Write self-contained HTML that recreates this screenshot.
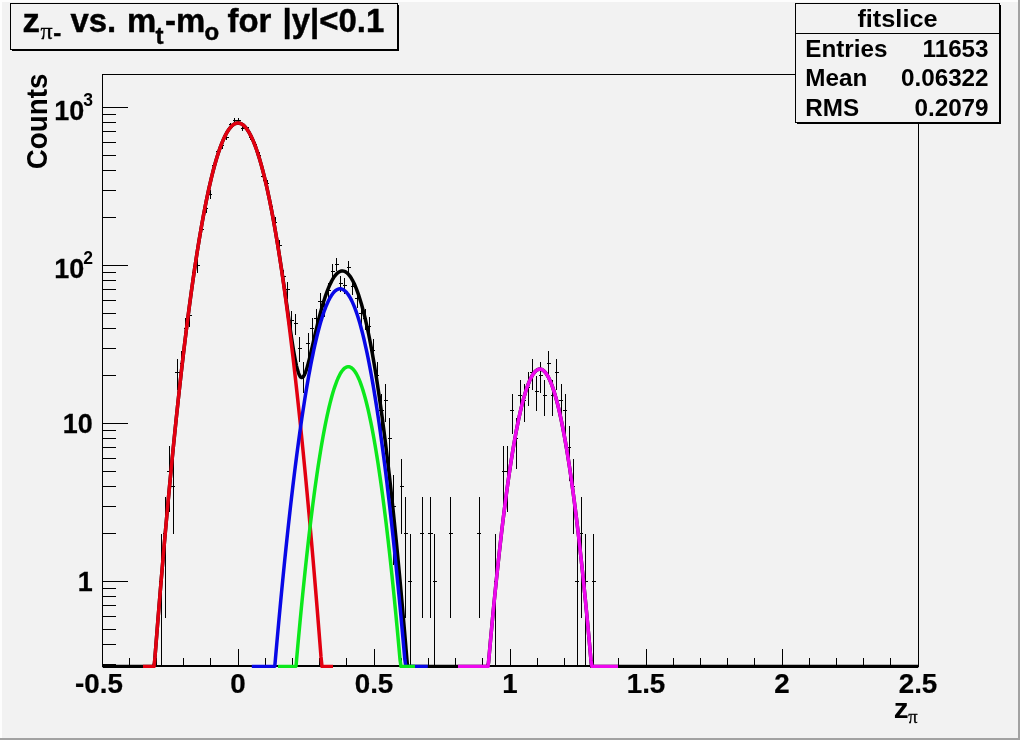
<!DOCTYPE html>
<html><head><meta charset="utf-8"><title>fitslice</title>
<style>html,body{margin:0;padding:0;background:#f2f2f2;}body{width:1020px;height:740px;overflow:hidden;position:relative;font-family:"Liberation Sans",sans-serif;}</style></head>
<body>
<svg width="1020" height="740" viewBox="0 0 1020 740" style="position:absolute;left:0;top:0;will-change:transform">
<rect x="0" y="0" width="1020" height="740" fill="#f2f2f2"/>
<rect x="0" y="0" width="1020" height="2" fill="#fdfdfd"/><rect x="0" y="0" width="2" height="740" fill="#fdfdfd"/>
<rect x="0" y="738" width="1020" height="2" fill="#a2a2a2"/><rect x="1018" y="0" width="2" height="740" fill="#a2a2a2"/>
<g shape-rendering="crispEdges" stroke="#000" stroke-width="1" fill="none">
<rect x="102.5" y="74.5" width="816.0" height="592.0"/>
<line x1="102.5" y1="666.5" x2="102.5" y2="649.0"/>
<line x1="129.5" y1="666.5" x2="129.5" y2="657.5"/>
<line x1="156.5" y1="666.5" x2="156.5" y2="657.5"/>
<line x1="183.5" y1="666.5" x2="183.5" y2="657.5"/>
<line x1="210.5" y1="666.5" x2="210.5" y2="657.5"/>
<line x1="238.5" y1="666.5" x2="238.5" y2="649.0"/>
<line x1="265.5" y1="666.5" x2="265.5" y2="657.5"/>
<line x1="292.5" y1="666.5" x2="292.5" y2="657.5"/>
<line x1="319.5" y1="666.5" x2="319.5" y2="657.5"/>
<line x1="346.5" y1="666.5" x2="346.5" y2="657.5"/>
<line x1="374.5" y1="666.5" x2="374.5" y2="649.0"/>
<line x1="401.5" y1="666.5" x2="401.5" y2="657.5"/>
<line x1="428.5" y1="666.5" x2="428.5" y2="657.5"/>
<line x1="455.5" y1="666.5" x2="455.5" y2="657.5"/>
<line x1="482.5" y1="666.5" x2="482.5" y2="657.5"/>
<line x1="510.5" y1="666.5" x2="510.5" y2="649.0"/>
<line x1="537.5" y1="666.5" x2="537.5" y2="657.5"/>
<line x1="564.5" y1="666.5" x2="564.5" y2="657.5"/>
<line x1="591.5" y1="666.5" x2="591.5" y2="657.5"/>
<line x1="618.5" y1="666.5" x2="618.5" y2="657.5"/>
<line x1="646.5" y1="666.5" x2="646.5" y2="649.0"/>
<line x1="673.5" y1="666.5" x2="673.5" y2="657.5"/>
<line x1="700.5" y1="666.5" x2="700.5" y2="657.5"/>
<line x1="727.5" y1="666.5" x2="727.5" y2="657.5"/>
<line x1="754.5" y1="666.5" x2="754.5" y2="657.5"/>
<line x1="782.5" y1="666.5" x2="782.5" y2="649.0"/>
<line x1="809.5" y1="666.5" x2="809.5" y2="657.5"/>
<line x1="836.5" y1="666.5" x2="836.5" y2="657.5"/>
<line x1="863.5" y1="666.5" x2="863.5" y2="657.5"/>
<line x1="890.5" y1="666.5" x2="890.5" y2="657.5"/>
<line x1="918.5" y1="666.5" x2="918.5" y2="649.0"/>
<line x1="102.5" y1="664.5" x2="115.5" y2="664.5"/>
<line x1="102.5" y1="644.5" x2="115.5" y2="644.5"/>
<line x1="102.5" y1="629.5" x2="115.5" y2="629.5"/>
<line x1="102.5" y1="616.5" x2="115.5" y2="616.5"/>
<line x1="102.5" y1="605.5" x2="115.5" y2="605.5"/>
<line x1="102.5" y1="596.5" x2="115.5" y2="596.5"/>
<line x1="102.5" y1="588.5" x2="115.5" y2="588.5"/>
<line x1="102.5" y1="581.5" x2="127.5" y2="581.5"/>
<line x1="102.5" y1="533.5" x2="115.5" y2="533.5"/>
<line x1="102.5" y1="506.5" x2="115.5" y2="506.5"/>
<line x1="102.5" y1="486.5" x2="115.5" y2="486.5"/>
<line x1="102.5" y1="471.5" x2="115.5" y2="471.5"/>
<line x1="102.5" y1="458.5" x2="115.5" y2="458.5"/>
<line x1="102.5" y1="447.5" x2="115.5" y2="447.5"/>
<line x1="102.5" y1="438.5" x2="115.5" y2="438.5"/>
<line x1="102.5" y1="430.5" x2="115.5" y2="430.5"/>
<line x1="102.5" y1="423.5" x2="127.5" y2="423.5"/>
<line x1="102.5" y1="375.5" x2="115.5" y2="375.5"/>
<line x1="102.5" y1="348.5" x2="115.5" y2="348.5"/>
<line x1="102.5" y1="328.5" x2="115.5" y2="328.5"/>
<line x1="102.5" y1="313.5" x2="115.5" y2="313.5"/>
<line x1="102.5" y1="300.5" x2="115.5" y2="300.5"/>
<line x1="102.5" y1="289.5" x2="115.5" y2="289.5"/>
<line x1="102.5" y1="280.5" x2="115.5" y2="280.5"/>
<line x1="102.5" y1="272.5" x2="115.5" y2="272.5"/>
<line x1="102.5" y1="265.5" x2="127.5" y2="265.5"/>
<line x1="102.5" y1="217.5" x2="115.5" y2="217.5"/>
<line x1="102.5" y1="190.5" x2="115.5" y2="190.5"/>
<line x1="102.5" y1="170.5" x2="115.5" y2="170.5"/>
<line x1="102.5" y1="155.5" x2="115.5" y2="155.5"/>
<line x1="102.5" y1="142.5" x2="115.5" y2="142.5"/>
<line x1="102.5" y1="131.5" x2="115.5" y2="131.5"/>
<line x1="102.5" y1="122.5" x2="115.5" y2="122.5"/>
<line x1="102.5" y1="114.5" x2="115.5" y2="114.5"/>
<line x1="102.5" y1="107.5" x2="127.5" y2="107.5"/>
<rect x="102.0" y="665" width="817.0" height="2" fill="#000" stroke="none"/>
</g>
<clipPath id="c"><rect x="102.5" y="74.5" width="816.0" height="593.5"/></clipPath>
<g clip-path="url(#c)">
<g stroke="#000" stroke-width="1" shape-rendering="crispEdges">
<line x1="161.5" y1="533.9" x2="161.5" y2="666.5"/>
<line x1="159.1" y1="581.5" x2="163.2" y2="581.5"/>
<line x1="165.5" y1="497.2" x2="165.5" y2="618.2"/>
<line x1="163.2" y1="533.5" x2="167.3" y2="533.5"/>
<line x1="169.5" y1="445.7" x2="169.5" y2="511.7"/>
<line x1="167.3" y1="471.5" x2="171.4" y2="471.5"/>
<line x1="173.5" y1="458.6" x2="173.5" y2="533.9"/>
<line x1="171.4" y1="486.5" x2="175.4" y2="486.5"/>
<line x1="177.5" y1="359.0" x2="177.5" y2="389.5"/>
<line x1="175.4" y1="372.5" x2="179.5" y2="372.5"/>
<line x1="181.5" y1="350.7" x2="181.5" y2="379.1"/>
<line x1="179.5" y1="363.5" x2="183.6" y2="363.5"/>
<line x1="185.5" y1="318.3" x2="185.5" y2="340.2"/>
<line x1="183.6" y1="328.5" x2="187.7" y2="328.5"/>
<line x1="189.5" y1="306.6" x2="189.5" y2="326.6"/>
<line x1="187.7" y1="315.5" x2="191.8" y2="315.5"/>
<line x1="193.5" y1="265.9" x2="193.5" y2="280.4"/>
<line x1="191.8" y1="272.5" x2="195.8" y2="272.5"/>
<line x1="197.5" y1="259.0" x2="197.5" y2="272.7"/>
<line x1="195.8" y1="265.5" x2="199.9" y2="265.5"/>
<line x1="201.5" y1="224.0" x2="201.5" y2="234.6"/>
<line x1="199.9" y1="229.5" x2="204.0" y2="229.5"/>
<line x1="206.5" y1="203.7" x2="206.5" y2="212.7"/>
<line x1="204.0" y1="208.5" x2="208.1" y2="208.5"/>
<line x1="210.5" y1="190.4" x2="210.5" y2="198.6"/>
<line x1="208.1" y1="194.5" x2="212.2" y2="194.5"/>
<line x1="214.5" y1="162.3" x2="214.5" y2="169.0"/>
<line x1="212.2" y1="165.5" x2="216.2" y2="165.5"/>
<line x1="218.5" y1="149.0" x2="218.5" y2="155.0"/>
<line x1="216.2" y1="151.5" x2="220.3" y2="151.5"/>
<line x1="222.5" y1="143.0" x2="222.5" y2="148.8"/>
<line x1="220.3" y1="145.5" x2="224.4" y2="145.5"/>
<line x1="226.5" y1="134.4" x2="226.5" y2="139.8"/>
<line x1="224.4" y1="137.5" x2="228.5" y2="137.5"/>
<line x1="230.5" y1="122.6" x2="230.5" y2="127.5"/>
<line x1="228.5" y1="124.5" x2="232.6" y2="124.5"/>
<line x1="234.5" y1="117.9" x2="234.5" y2="122.7"/>
<line x1="232.6" y1="120.5" x2="236.6" y2="120.5"/>
<line x1="238.5" y1="118.4" x2="238.5" y2="123.2"/>
<line x1="236.6" y1="120.5" x2="240.7" y2="120.5"/>
<line x1="242.5" y1="126.2" x2="242.5" y2="131.3"/>
<line x1="240.7" y1="128.5" x2="244.8" y2="128.5"/>
<line x1="246.5" y1="125.5" x2="246.5" y2="130.5"/>
<line x1="244.8" y1="127.5" x2="248.9" y2="127.5"/>
<line x1="250.5" y1="134.6" x2="250.5" y2="140.0"/>
<line x1="248.9" y1="137.5" x2="253.0" y2="137.5"/>
<line x1="255.5" y1="141.9" x2="255.5" y2="147.5"/>
<line x1="253.0" y1="144.5" x2="257.0" y2="144.5"/>
<line x1="259.5" y1="152.3" x2="259.5" y2="158.5"/>
<line x1="257.0" y1="155.5" x2="261.1" y2="155.5"/>
<line x1="263.5" y1="173.3" x2="263.5" y2="180.5"/>
<line x1="261.1" y1="176.5" x2="265.2" y2="176.5"/>
<line x1="267.5" y1="180.3" x2="267.5" y2="187.9"/>
<line x1="265.2" y1="183.5" x2="269.3" y2="183.5"/>
<line x1="271.5" y1="202.0" x2="271.5" y2="210.9"/>
<line x1="269.3" y1="206.5" x2="273.4" y2="206.5"/>
<line x1="275.5" y1="217.4" x2="275.5" y2="227.4"/>
<line x1="273.4" y1="222.5" x2="277.4" y2="222.5"/>
<line x1="279.5" y1="239.7" x2="279.5" y2="251.6"/>
<line x1="277.4" y1="245.5" x2="281.5" y2="245.5"/>
<line x1="283.5" y1="269.6" x2="283.5" y2="284.5"/>
<line x1="281.5" y1="276.5" x2="285.6" y2="276.5"/>
<line x1="287.5" y1="282.2" x2="287.5" y2="298.7"/>
<line x1="285.6" y1="289.5" x2="289.7" y2="289.5"/>
<line x1="291.5" y1="310.8" x2="291.5" y2="331.4"/>
<line x1="289.7" y1="320.5" x2="293.8" y2="320.5"/>
<line x1="295.5" y1="313.7" x2="295.5" y2="334.8"/>
<line x1="293.8" y1="323.5" x2="297.8" y2="323.5"/>
<line x1="299.5" y1="336.6" x2="299.5" y2="361.9"/>
<line x1="297.8" y1="348.5" x2="301.9" y2="348.5"/>
<line x1="303.5" y1="362.1" x2="303.5" y2="393.3"/>
<line x1="301.9" y1="375.5" x2="306.0" y2="375.5"/>
<line x1="308.5" y1="332.5" x2="308.5" y2="357.0"/>
<line x1="306.0" y1="343.5" x2="310.1" y2="343.5"/>
<line x1="312.5" y1="318.3" x2="312.5" y2="340.2"/>
<line x1="310.1" y1="328.5" x2="314.2" y2="328.5"/>
<line x1="316.5" y1="309.3" x2="316.5" y2="329.7"/>
<line x1="314.2" y1="318.5" x2="318.2" y2="318.5"/>
<line x1="320.5" y1="293.3" x2="320.5" y2="311.3"/>
<line x1="318.2" y1="301.5" x2="322.3" y2="301.5"/>
<line x1="324.5" y1="297.8" x2="324.5" y2="316.5"/>
<line x1="322.3" y1="306.5" x2="326.4" y2="306.5"/>
<line x1="328.5" y1="283.2" x2="328.5" y2="299.8"/>
<line x1="326.4" y1="290.5" x2="330.5" y2="290.5"/>
<line x1="332.5" y1="264.4" x2="332.5" y2="278.8"/>
<line x1="330.5" y1="271.5" x2="334.6" y2="271.5"/>
<line x1="336.5" y1="257.7" x2="336.5" y2="271.3"/>
<line x1="334.6" y1="264.5" x2="338.6" y2="264.5"/>
<line x1="340.5" y1="276.0" x2="340.5" y2="291.7"/>
<line x1="338.6" y1="283.5" x2="342.7" y2="283.5"/>
<line x1="344.5" y1="277.7" x2="344.5" y2="293.7"/>
<line x1="342.7" y1="285.5" x2="346.8" y2="285.5"/>
<line x1="348.5" y1="261.0" x2="348.5" y2="274.9"/>
<line x1="346.8" y1="267.5" x2="350.9" y2="267.5"/>
<line x1="352.5" y1="278.6" x2="352.5" y2="294.6"/>
<line x1="350.9" y1="286.5" x2="355.0" y2="286.5"/>
<line x1="357.5" y1="290.1" x2="357.5" y2="307.6"/>
<line x1="355.0" y1="298.5" x2="359.0" y2="298.5"/>
<line x1="361.5" y1="304.0" x2="361.5" y2="323.5"/>
<line x1="359.0" y1="313.5" x2="363.1" y2="313.5"/>
<line x1="365.5" y1="309.3" x2="365.5" y2="329.7"/>
<line x1="363.1" y1="318.5" x2="367.2" y2="318.5"/>
<line x1="369.5" y1="316.7" x2="369.5" y2="338.3"/>
<line x1="367.2" y1="326.5" x2="371.3" y2="326.5"/>
<line x1="373.5" y1="338.8" x2="373.5" y2="364.5"/>
<line x1="371.3" y1="350.5" x2="375.4" y2="350.5"/>
<line x1="377.5" y1="362.1" x2="377.5" y2="393.3"/>
<line x1="375.4" y1="375.5" x2="379.4" y2="375.5"/>
<line x1="381.5" y1="393.6" x2="381.5" y2="434.4"/>
<line x1="379.4" y1="410.5" x2="383.5" y2="410.5"/>
<line x1="385.5" y1="384.2" x2="385.5" y2="421.7"/>
<line x1="383.5" y1="400.5" x2="387.6" y2="400.5"/>
<line x1="389.5" y1="418.0" x2="389.5" y2="468.7"/>
<line x1="387.6" y1="438.5" x2="391.7" y2="438.5"/>
<line x1="393.5" y1="474.8" x2="393.5" y2="565.2"/>
<line x1="391.7" y1="506.5" x2="395.8" y2="506.5"/>
<line x1="401.5" y1="458.6" x2="401.5" y2="533.9"/>
<line x1="399.8" y1="486.5" x2="403.9" y2="486.5"/>
<line x1="405.5" y1="497.2" x2="405.5" y2="618.2"/>
<line x1="403.9" y1="533.5" x2="408.0" y2="533.5"/>
<line x1="410.5" y1="533.9" x2="410.5" y2="666.5"/>
<line x1="408.0" y1="581.5" x2="412.1" y2="581.5"/>
<line x1="422.5" y1="497.2" x2="422.5" y2="618.2"/>
<line x1="420.2" y1="533.5" x2="424.3" y2="533.5"/>
<line x1="430.5" y1="497.2" x2="430.5" y2="618.2"/>
<line x1="428.4" y1="533.5" x2="432.5" y2="533.5"/>
<line x1="434.5" y1="533.9" x2="434.5" y2="666.5"/>
<line x1="432.5" y1="581.5" x2="436.6" y2="581.5"/>
<line x1="450.5" y1="497.2" x2="450.5" y2="618.2"/>
<line x1="448.8" y1="533.5" x2="452.9" y2="533.5"/>
<line x1="479.5" y1="497.2" x2="479.5" y2="618.2"/>
<line x1="477.4" y1="533.5" x2="481.4" y2="533.5"/>
<line x1="495.5" y1="533.9" x2="495.5" y2="666.5"/>
<line x1="493.7" y1="581.5" x2="497.8" y2="581.5"/>
<line x1="503.5" y1="445.7" x2="503.5" y2="511.7"/>
<line x1="501.8" y1="471.5" x2="505.9" y2="471.5"/>
<line x1="507.5" y1="445.7" x2="507.5" y2="511.7"/>
<line x1="505.9" y1="471.5" x2="510.0" y2="471.5"/>
<line x1="512.5" y1="393.6" x2="512.5" y2="434.4"/>
<line x1="510.0" y1="410.5" x2="514.1" y2="410.5"/>
<line x1="516.5" y1="418.0" x2="516.5" y2="468.7"/>
<line x1="514.1" y1="438.5" x2="518.2" y2="438.5"/>
<line x1="520.5" y1="379.9" x2="520.5" y2="416.2"/>
<line x1="518.2" y1="395.5" x2="522.2" y2="395.5"/>
<line x1="524.5" y1="384.2" x2="524.5" y2="421.7"/>
<line x1="522.2" y1="400.5" x2="526.3" y2="400.5"/>
<line x1="528.5" y1="372.2" x2="528.5" y2="406.1"/>
<line x1="526.3" y1="387.5" x2="530.4" y2="387.5"/>
<line x1="532.5" y1="359.0" x2="532.5" y2="389.5"/>
<line x1="530.4" y1="372.5" x2="534.5" y2="372.5"/>
<line x1="536.5" y1="375.9" x2="536.5" y2="411.0"/>
<line x1="534.5" y1="391.5" x2="538.6" y2="391.5"/>
<line x1="540.5" y1="362.1" x2="540.5" y2="393.3"/>
<line x1="538.6" y1="375.5" x2="542.6" y2="375.5"/>
<line x1="544.5" y1="379.9" x2="544.5" y2="416.2"/>
<line x1="542.6" y1="395.5" x2="546.7" y2="395.5"/>
<line x1="548.5" y1="350.7" x2="548.5" y2="379.1"/>
<line x1="546.7" y1="363.5" x2="550.8" y2="363.5"/>
<line x1="552.5" y1="379.9" x2="552.5" y2="416.2"/>
<line x1="550.8" y1="395.5" x2="554.9" y2="395.5"/>
<line x1="556.5" y1="359.0" x2="556.5" y2="389.5"/>
<line x1="554.9" y1="372.5" x2="559.0" y2="372.5"/>
<line x1="561.5" y1="384.2" x2="561.5" y2="421.7"/>
<line x1="559.0" y1="400.5" x2="563.0" y2="400.5"/>
<line x1="565.5" y1="393.6" x2="565.5" y2="434.4"/>
<line x1="563.0" y1="410.5" x2="567.1" y2="410.5"/>
<line x1="569.5" y1="426.0" x2="569.5" y2="480.6"/>
<line x1="567.1" y1="447.5" x2="571.2" y2="447.5"/>
<line x1="573.5" y1="458.6" x2="573.5" y2="533.9"/>
<line x1="571.2" y1="486.5" x2="575.3" y2="486.5"/>
<line x1="577.5" y1="533.9" x2="577.5" y2="666.5"/>
<line x1="575.3" y1="581.5" x2="579.4" y2="581.5"/>
<line x1="581.5" y1="497.2" x2="581.5" y2="618.2"/>
<line x1="579.4" y1="533.5" x2="583.4" y2="533.5"/>
<line x1="585.5" y1="533.9" x2="585.5" y2="666.5"/>
<line x1="583.4" y1="581.5" x2="587.5" y2="581.5"/>
<line x1="593.5" y1="533.9" x2="593.5" y2="666.5"/>
<line x1="591.6" y1="581.5" x2="595.7" y2="581.5"/>
</g>
<polyline points="102.5,666.5 103.5,666.5 104.5,666.5 105.5,666.5 106.5,666.5 107.5,666.5 108.5,666.5 109.5,666.5 110.5,666.5 111.5,666.5 112.5,666.5 113.5,666.5 114.5,666.5 115.5,666.5 116.5,666.5 117.5,666.5 118.5,666.5 119.5,666.5 120.5,666.5 121.5,666.5 122.5,666.5 123.5,666.5 124.5,666.5 125.5,666.5 126.5,666.5 127.5,666.5 128.5,666.5 129.5,666.5 130.5,666.5 131.5,666.5 132.5,666.5 133.5,666.5 134.5,666.5 135.5,666.5 136.5,666.5 137.5,666.5 138.5,666.5 139.5,666.5 140.5,666.5 141.5,666.5 142.5,666.5 143.5,666.5 144.5,666.5 145.5,666.5 146.5,666.5 147.5,666.5 148.5,666.5 149.5,666.5 150.5,666.5 151.5,666.5 152.5,666.5 153.5,666.5 154.5,663.3 155.5,650.5 156.5,637.8 157.5,625.2 158.5,612.8 159.5,600.6 160.5,588.5 161.5,576.5 162.5,564.8 163.5,553.1 164.5,541.7 165.5,530.4 166.5,519.2 167.5,508.2 168.5,497.3 169.5,486.6 170.5,476.1 171.5,465.7 172.5,455.5 173.5,445.4 174.5,435.5 175.5,425.7 176.5,416.1 177.5,406.7 178.5,397.4 179.5,388.2 180.5,379.2 181.5,370.4 182.5,361.7 183.5,353.2 184.5,344.8 185.5,336.6 186.5,328.5 187.5,320.6 188.5,312.9 189.5,305.3 190.5,297.9 191.5,290.6 192.5,283.4 193.5,276.5 194.5,269.6 195.5,263.0 196.5,256.5 197.5,250.1 198.5,243.9 199.5,237.9 200.5,232.0 201.5,226.2 202.5,220.7 203.5,215.2 204.5,210.0 205.5,204.9 206.5,199.9 207.5,195.1 208.5,190.4 209.5,185.9 210.5,181.6 211.5,177.4 212.5,173.4 213.5,169.5 214.5,165.8 215.5,162.2 216.5,158.8 217.5,155.6 218.5,152.5 219.5,149.5 220.5,146.7 221.5,144.1 222.5,141.6 223.5,139.3 224.5,137.1 225.5,135.1 226.5,133.2 227.5,131.5 228.5,130.0 229.5,128.6 230.5,127.4 231.5,126.3 232.5,125.3 233.5,124.6 234.5,123.9 235.5,123.5 236.5,123.2 237.5,123.0 238.5,123.0 239.5,123.2 240.5,123.5 241.5,123.9 242.5,124.6 243.5,125.3 244.5,126.3 245.5,127.4 246.5,128.6 247.5,130.0 248.5,131.5 249.5,133.2 250.5,135.1 251.5,137.1 252.5,139.3 253.5,141.6 254.5,144.1 255.5,146.7 256.5,149.5 257.5,152.5 258.5,155.6 259.5,158.8 260.5,162.2 261.5,165.8 262.5,169.5 263.5,173.4 264.5,177.4 265.5,181.6 266.5,185.9 267.5,190.4 268.5,195.1 269.5,199.9 270.5,204.8 271.5,209.9 272.5,215.2 273.5,220.6 274.5,226.1 275.5,231.8 276.5,237.7 277.5,243.7 278.5,249.8 279.5,256.1 280.5,262.5 281.5,269.0 282.5,275.7 283.5,282.4 284.5,289.2 285.5,296.2 286.5,303.1 287.5,310.1 288.5,317.1 289.5,324.0 290.5,330.9 291.5,337.6 292.5,344.0 293.5,350.2 294.5,355.9 295.5,361.2 296.5,365.8 297.5,369.8 298.5,373.1 299.5,375.4 300.5,377.0 301.5,377.6 302.5,377.4 303.5,376.4 304.5,374.7 305.5,372.3 306.5,369.4 307.5,366.1 308.5,362.3 309.5,358.4 310.5,354.2 311.5,349.9 312.5,345.6 313.5,341.2 314.5,336.9 315.5,332.5 316.5,328.3 317.5,324.2 318.5,320.2 319.5,316.3 320.5,312.5 321.5,308.9 322.5,305.4 323.5,302.1 324.5,298.9 325.5,295.9 326.5,293.1 327.5,290.4 328.5,287.9 329.5,285.5 330.5,283.4 331.5,281.4 332.5,279.5 333.5,277.9 334.5,276.4 335.5,275.1 336.5,274.0 337.5,273.0 338.5,272.3 339.5,271.7 340.5,271.2 341.5,271.0 342.5,270.9 343.5,271.1 344.5,271.4 345.5,271.8 346.5,272.5 347.5,273.3 348.5,274.4 349.5,275.6 350.5,276.9 351.5,278.5 352.5,280.3 353.5,282.2 354.5,284.3 355.5,286.6 356.5,289.1 357.5,291.8 358.5,294.6 359.5,297.7 360.5,300.9 361.5,304.3 362.5,308.0 363.5,311.7 364.5,315.7 365.5,319.9 366.5,324.3 367.5,328.8 368.5,333.5 369.5,338.5 370.5,343.6 371.5,348.9 372.5,354.4 373.5,360.1 374.5,366.0 375.5,372.0 376.5,378.3 377.5,384.7 378.5,391.4 379.5,398.2 380.5,405.2 381.5,412.4 382.5,419.8 383.5,427.4 384.5,435.2 385.5,443.2 386.5,451.4 387.5,459.7 388.5,468.3 389.5,477.0 390.5,486.0 391.5,495.1 392.5,504.4 393.5,513.9 394.5,523.6 395.5,533.5 396.5,543.5 397.5,553.8 398.5,564.3 399.5,574.9 400.5,585.7 401.5,596.8 402.5,608.0 403.5,619.4 404.5,630.9 405.5,642.7 406.5,654.7 407.5,666.5 408.5,666.5 409.5,666.5 410.5,666.5 411.5,666.5 412.5,666.5 413.5,666.5 414.5,666.5 415.5,666.5 416.5,666.5 417.5,666.5 418.5,666.5 419.5,666.5 420.5,666.5 421.5,666.5 422.5,666.5 423.5,666.5 424.5,666.5 425.5,666.5 426.5,666.5 427.5,666.5 428.5,666.5 429.5,666.5 430.5,666.5 431.5,666.5 432.5,666.5 433.5,666.5 434.5,666.5 435.5,666.5 436.5,666.5 437.5,666.5 438.5,666.5 439.5,666.5 440.5,666.5 441.5,666.5 442.5,666.5 443.5,666.5 444.5,666.5 445.5,666.5 446.5,666.5 447.5,666.5 448.5,666.5 449.5,666.5 450.5,666.5 451.5,666.5 452.5,666.5 453.5,666.5 454.5,666.5 455.5,666.5 456.5,666.5 457.5,666.5 458.5,666.5 459.5,666.5 460.5,666.5 461.5,666.5 462.5,666.5 463.5,666.5 464.5,666.5 465.5,666.5 466.5,666.5 467.5,666.5 468.5,666.5 469.5,666.5 470.5,666.5 471.5,666.5 472.5,666.5 473.5,666.5 474.5,666.5 475.5,666.5 476.5,666.5 477.5,666.5 478.5,666.5 479.5,666.5 480.5,666.5 481.5,666.5 482.5,666.5 483.5,666.5 484.5,666.5 485.5,666.5 486.5,666.5 487.5,666.5 488.5,663.0 489.5,651.6 490.5,640.5 491.5,629.6 492.5,619.0 493.5,608.5 494.5,598.3 495.5,588.3 496.5,578.5 497.5,569.0 498.5,559.7 499.5,550.6 500.5,541.7 501.5,533.0 502.5,524.6 503.5,516.4 504.5,508.4 505.5,500.6 506.5,493.1 507.5,485.7 508.5,478.6 509.5,471.8 510.5,465.1 511.5,458.7 512.5,452.5 513.5,446.5 514.5,440.7 515.5,435.2 516.5,429.9 517.5,424.8 518.5,419.9 519.5,415.3 520.5,410.8 521.5,406.6 522.5,402.6 523.5,398.9 524.5,395.4 525.5,392.1 526.5,389.0 527.5,386.1 528.5,383.5 529.5,381.0 530.5,378.8 531.5,376.9 532.5,375.1 533.5,373.6 534.5,372.3 535.5,371.2 536.5,370.4 537.5,369.7 538.5,369.3 539.5,369.1 540.5,369.1 541.5,369.4 542.5,369.9 543.5,370.6 544.5,371.5 545.5,372.7 546.5,374.0 547.5,375.6 548.5,377.4 549.5,379.5 550.5,381.7 551.5,384.2 552.5,386.9 553.5,389.9 554.5,393.0 555.5,396.4 556.5,400.0 557.5,403.8 558.5,407.9 559.5,412.1 560.5,416.6 561.5,421.3 562.5,426.3 563.5,431.4 564.5,436.8 565.5,442.4 566.5,448.3 567.5,454.3 568.5,460.6 569.5,467.1 570.5,473.8 571.5,480.7 572.5,487.9 573.5,495.3 574.5,502.9 575.5,510.7 576.5,518.8 577.5,527.1 578.5,535.6 579.5,544.3 580.5,553.3 581.5,562.4 582.5,571.8 583.5,581.4 584.5,591.3 585.5,601.4 586.5,611.6 587.5,622.1 588.5,632.9 589.5,643.8 590.5,655.0 591.5,666.4 592.5,666.5 593.5,666.5 594.5,666.5 595.5,666.5 596.5,666.5 597.5,666.5 598.5,666.5 599.5,666.5 600.5,666.5 601.5,666.5 602.5,666.5 603.5,666.5 604.5,666.5 605.5,666.5 606.5,666.5 607.5,666.5 608.5,666.5 609.5,666.5 610.5,666.5 611.5,666.5 612.5,666.5 613.5,666.5 614.5,666.5 615.5,666.5 616.5,666.5 617.5,666.5 618.5,666.5 619.5,666.5 620.5,666.5 621.5,666.5 622.5,666.5 623.5,666.5 624.5,666.5 625.5,666.5 626.5,666.5 627.5,666.5 628.5,666.5 629.5,666.5 630.5,666.5 631.5,666.5 632.5,666.5 633.5,666.5 634.5,666.5 635.5,666.5 636.5,666.5 637.5,666.5 638.5,666.5 639.5,666.5 640.5,666.5 641.5,666.5 642.5,666.5 643.5,666.5 644.5,666.5 645.5,666.5 646.5,666.5 647.5,666.5 648.5,666.5 649.5,666.5 650.5,666.5 651.5,666.5 652.5,666.5 653.5,666.5 654.5,666.5 655.5,666.5 656.5,666.5 657.5,666.5 658.5,666.5 659.5,666.5 660.5,666.5 661.5,666.5 662.5,666.5 663.5,666.5 664.5,666.5 665.5,666.5 666.5,666.5 667.5,666.5 668.5,666.5 669.5,666.5 670.5,666.5 671.5,666.5 672.5,666.5 673.5,666.5 674.5,666.5 675.5,666.5 676.5,666.5 677.5,666.5 678.5,666.5 679.5,666.5 680.5,666.5 681.5,666.5 682.5,666.5 683.5,666.5 684.5,666.5 685.5,666.5 686.5,666.5 687.5,666.5 688.5,666.5 689.5,666.5 690.5,666.5 691.5,666.5 692.5,666.5 693.5,666.5 694.5,666.5 695.5,666.5 696.5,666.5 697.5,666.5 698.5,666.5 699.5,666.5 700.5,666.5 701.5,666.5 702.5,666.5 703.5,666.5 704.5,666.5 705.5,666.5 706.5,666.5 707.5,666.5 708.5,666.5 709.5,666.5 710.5,666.5 711.5,666.5 712.5,666.5 713.5,666.5 714.5,666.5 715.5,666.5 716.5,666.5 717.5,666.5 718.5,666.5 719.5,666.5 720.5,666.5 721.5,666.5 722.5,666.5 723.5,666.5 724.5,666.5 725.5,666.5 726.5,666.5 727.5,666.5 728.5,666.5 729.5,666.5 730.5,666.5 731.5,666.5 732.5,666.5 733.5,666.5 734.5,666.5 735.5,666.5 736.5,666.5 737.5,666.5 738.5,666.5 739.5,666.5 740.5,666.5 741.5,666.5 742.5,666.5 743.5,666.5 744.5,666.5 745.5,666.5 746.5,666.5 747.5,666.5 748.5,666.5 749.5,666.5 750.5,666.5 751.5,666.5 752.5,666.5 753.5,666.5 754.5,666.5 755.5,666.5 756.5,666.5 757.5,666.5 758.5,666.5 759.5,666.5 760.5,666.5 761.5,666.5 762.5,666.5 763.5,666.5 764.5,666.5 765.5,666.5 766.5,666.5 767.5,666.5 768.5,666.5 769.5,666.5 770.5,666.5 771.5,666.5 772.5,666.5 773.5,666.5 774.5,666.5 775.5,666.5 776.5,666.5 777.5,666.5 778.5,666.5 779.5,666.5 780.5,666.5 781.5,666.5 782.5,666.5 783.5,666.5 784.5,666.5 785.5,666.5 786.5,666.5 787.5,666.5 788.5,666.5 789.5,666.5 790.5,666.5 791.5,666.5 792.5,666.5 793.5,666.5 794.5,666.5 795.5,666.5 796.5,666.5 797.5,666.5 798.5,666.5 799.5,666.5 800.5,666.5 801.5,666.5 802.5,666.5 803.5,666.5 804.5,666.5 805.5,666.5 806.5,666.5 807.5,666.5 808.5,666.5 809.5,666.5 810.5,666.5 811.5,666.5 812.5,666.5 813.5,666.5 814.5,666.5 815.5,666.5 816.5,666.5 817.5,666.5 818.5,666.5 819.5,666.5 820.5,666.5 821.5,666.5 822.5,666.5 823.5,666.5 824.5,666.5 825.5,666.5 826.5,666.5 827.5,666.5 828.5,666.5 829.5,666.5 830.5,666.5 831.5,666.5 832.5,666.5 833.5,666.5 834.5,666.5 835.5,666.5 836.5,666.5 837.5,666.5 838.5,666.5 839.5,666.5 840.5,666.5 841.5,666.5 842.5,666.5 843.5,666.5 844.5,666.5 845.5,666.5 846.5,666.5 847.5,666.5 848.5,666.5 849.5,666.5 850.5,666.5 851.5,666.5 852.5,666.5 853.5,666.5 854.5,666.5 855.5,666.5 856.5,666.5 857.5,666.5 858.5,666.5 859.5,666.5 860.5,666.5 861.5,666.5 862.5,666.5 863.5,666.5 864.5,666.5 865.5,666.5 866.5,666.5 867.5,666.5 868.5,666.5 869.5,666.5 870.5,666.5 871.5,666.5 872.5,666.5 873.5,666.5 874.5,666.5 875.5,666.5 876.5,666.5 877.5,666.5 878.5,666.5 879.5,666.5 880.5,666.5 881.5,666.5 882.5,666.5 883.5,666.5 884.5,666.5 885.5,666.5 886.5,666.5 887.5,666.5 888.5,666.5 889.5,666.5 890.5,666.5 891.5,666.5 892.5,666.5 893.5,666.5 894.5,666.5 895.5,666.5 896.5,666.5 897.5,666.5 898.5,666.5 899.5,666.5 900.5,666.5 901.5,666.5 902.5,666.5 903.5,666.5 904.5,666.5 905.5,666.5 906.5,666.5 907.5,666.5 908.5,666.5 909.5,666.5 910.5,666.5 911.5,666.5 912.5,666.5 913.5,666.5 914.5,666.5 915.5,666.5 916.5,666.5 917.5,666.5 918.5,666.5" fill="none" stroke="#000" stroke-width="3.5" stroke-linejoin="round"/>
<polyline points="143.0,666.5 144.0,666.5 145.0,666.5 146.0,666.5 147.0,666.5 148.0,666.5 149.0,666.5 150.0,666.5 151.0,666.5 152.0,666.5 153.0,666.5 154.0,666.5 155.0,656.9 156.0,644.1 157.0,631.5 158.0,619.0 159.0,606.7 160.0,594.5 161.0,582.5 162.0,570.6 163.0,558.9 164.0,547.4 165.0,536.0 166.0,524.8 167.0,513.7 168.0,502.8 169.0,492.0 170.0,481.4 171.0,470.9 172.0,460.6 173.0,450.4 174.0,440.4 175.0,430.6 176.0,420.9 177.0,411.4 178.0,402.0 179.0,392.8 180.0,383.7 181.0,374.8 182.0,366.0 183.0,357.4 184.0,349.0 185.0,340.7 186.0,332.6 187.0,324.6 188.0,316.8 189.0,309.1 190.0,301.6 191.0,294.2 192.0,287.0 193.0,279.9 194.0,273.0 195.0,266.3 196.0,259.7 197.0,253.3 198.0,247.0 199.0,240.9 200.0,234.9 201.0,229.1 202.0,223.4 203.0,217.9 204.0,212.6 205.0,207.4 206.0,202.4 207.0,197.5 208.0,192.8 209.0,188.2 210.0,183.8 211.0,179.5 212.0,175.4 213.0,171.4 214.0,167.6 215.0,164.0 216.0,160.5 217.0,157.2 218.0,154.0 219.0,151.0 220.0,148.1 221.0,145.4 222.0,142.8 223.0,140.4 224.0,138.2 225.0,136.1 226.0,134.2 227.0,132.4 228.0,130.8 229.0,129.3 230.0,128.0 231.0,126.8 232.0,125.8 233.0,124.9 234.0,124.2 235.0,123.7 236.0,123.3 237.0,123.1 238.0,123.0 239.0,123.1 240.0,123.3 241.0,123.7 242.0,124.2 243.0,124.9 244.0,125.8 245.0,126.8 246.0,128.0 247.0,129.3 248.0,130.8 249.0,132.4 250.0,134.2 251.0,136.1 252.0,138.2 253.0,140.4 254.0,142.8 255.0,145.4 256.0,148.1 257.0,151.0 258.0,154.0 259.0,157.2 260.0,160.5 261.0,164.0 262.0,167.6 263.0,171.4 264.0,175.4 265.0,179.5 266.0,183.8 267.0,188.2 268.0,192.8 269.0,197.5 270.0,202.4 271.0,207.4 272.0,212.6 273.0,217.9 274.0,223.4 275.0,229.1 276.0,234.9 277.0,240.9 278.0,247.0 279.0,253.3 280.0,259.7 281.0,266.3 282.0,273.0 283.0,279.9 284.0,287.0 285.0,294.2 286.0,301.6 287.0,309.1 288.0,316.8 289.0,324.6 290.0,332.6 291.0,340.7 292.0,349.0 293.0,357.4 294.0,366.0 295.0,374.8 296.0,383.7 297.0,392.8 298.0,402.0 299.0,411.4 300.0,420.9 301.0,430.6 302.0,440.4 303.0,450.4 304.0,460.6 305.0,470.9 306.0,481.4 307.0,492.0 308.0,502.8 309.0,513.7 310.0,524.8 311.0,536.0 312.0,547.4 313.0,558.9 314.0,570.6 315.0,582.5 316.0,594.5 317.0,606.7 318.0,619.0 319.0,631.5 320.0,644.1 321.0,656.9 322.0,666.5 323.0,666.5 324.0,666.5 325.0,666.5 326.0,666.5 327.0,666.5 328.0,666.5 329.0,666.5 330.0,666.5 331.0,666.5 332.0,666.5 333.0,666.5" fill="none" stroke="#e20010" stroke-width="3.5" stroke-linejoin="round"/>
<polyline points="251.8,666.5 252.8,666.5 253.8,666.5 254.8,666.5 255.8,666.5 256.8,666.5 257.8,666.5 258.8,666.5 259.8,666.5 260.8,666.5 261.8,666.5 262.8,666.5 263.8,666.5 264.8,666.5 265.8,666.5 266.8,666.5 267.8,666.5 268.8,666.5 269.8,666.5 270.8,666.5 271.8,666.5 272.8,666.5 273.8,666.5 274.8,666.2 275.8,654.7 276.8,643.4 277.8,632.3 278.8,621.4 279.8,610.6 280.8,600.0 281.8,589.6 282.8,579.4 283.8,569.3 284.8,559.4 285.8,549.7 286.8,540.2 287.8,530.9 288.8,521.7 289.8,512.7 290.8,503.9 291.8,495.3 292.8,486.8 293.8,478.5 294.8,470.4 295.8,462.5 296.8,454.7 297.8,447.2 298.8,439.8 299.8,432.5 300.8,425.5 301.8,418.6 302.8,411.9 303.8,405.4 304.8,399.1 305.8,392.9 306.8,386.9 307.8,381.1 308.8,375.5 309.8,370.1 310.8,364.8 311.8,359.7 312.8,354.8 313.8,350.0 314.8,345.4 315.8,341.1 316.8,336.8 317.8,332.8 318.8,329.0 319.8,325.3 320.8,321.8 321.8,318.4 322.8,315.3 323.8,312.3 324.8,309.5 325.8,306.9 326.8,304.5 327.8,302.2 328.8,300.1 329.8,298.2 330.8,296.5 331.8,294.9 332.8,293.5 333.8,292.3 334.8,291.3 335.8,290.4 336.8,289.8 337.8,289.3 338.8,288.9 339.8,288.8 340.8,288.8 341.8,289.1 342.8,289.4 343.8,290.0 344.8,290.8 345.8,291.7 346.8,292.8 347.8,294.0 348.8,295.5 349.8,297.1 350.8,298.9 351.8,300.9 352.8,303.1 353.8,305.4 354.8,307.9 355.8,310.6 356.8,313.5 357.8,316.5 358.8,319.7 359.8,323.1 360.8,326.7 361.8,330.5 362.8,334.4 363.8,338.5 364.8,342.8 365.8,347.3 366.8,351.9 367.8,356.7 368.8,361.7 369.8,366.9 370.8,372.2 371.8,377.7 372.8,383.4 373.8,389.3 374.8,395.4 375.8,401.6 376.8,408.0 377.8,414.6 378.8,421.3 379.8,428.3 380.8,435.4 381.8,442.7 382.8,450.2 383.8,457.8 384.8,465.6 385.8,473.6 386.8,481.8 387.8,490.2 388.8,498.7 389.8,507.4 390.8,516.3 391.8,525.4 392.8,534.6 393.8,544.0 394.8,553.6 395.8,563.4 396.8,573.3 397.8,583.4 398.8,593.7 399.8,604.2 400.8,614.9 401.8,625.7 402.8,636.7 403.8,647.9 404.8,659.3 405.8,666.5 406.8,666.5 407.8,666.5 408.8,666.5 409.8,666.5 410.8,666.5 411.8,666.5 412.8,666.5 413.8,666.5 414.8,666.5 415.8,666.5 416.8,666.5 417.8,666.5 418.8,666.5 419.8,666.5 420.8,666.5 421.8,666.5 422.8,666.5 423.8,666.5 424.8,666.5 425.8,666.5 426.8,666.5 427.8,666.5" fill="none" stroke="#0808e6" stroke-width="3.5" stroke-linejoin="round"/>
<polyline points="278.0,666.5 279.0,666.5 280.0,666.5 281.0,666.5 282.0,666.5 283.0,666.5 284.0,666.5 285.0,666.5 286.0,666.5 287.0,666.5 288.0,666.5 289.0,666.5 290.0,666.5 291.0,666.5 292.0,666.5 293.0,666.5 294.0,666.5 295.0,666.5 296.0,666.2 297.0,654.9 298.0,643.7 299.0,632.8 300.0,622.2 301.0,611.7 302.0,601.4 303.0,591.4 304.0,581.6 305.0,572.0 306.0,562.6 307.0,553.5 308.0,544.5 309.0,535.8 310.0,527.3 311.0,519.0 312.0,511.0 313.0,503.1 314.0,495.5 315.0,488.1 316.0,480.9 317.0,474.0 318.0,467.2 319.0,460.7 320.0,454.4 321.0,448.3 322.0,442.4 323.0,436.8 324.0,431.4 325.0,426.1 326.0,421.2 327.0,416.4 328.0,411.8 329.0,407.5 330.0,403.4 331.0,399.5 332.0,395.8 333.0,392.3 334.0,389.1 335.0,386.1 336.0,383.3 337.0,380.7 338.0,378.3 339.0,376.2 340.0,374.2 341.0,372.5 342.0,371.0 343.0,369.8 344.0,368.7 345.0,367.9 346.0,367.3 347.0,366.9 348.0,366.7 349.0,366.8 350.0,367.0 351.0,367.5 352.0,368.2 353.0,369.1 354.0,370.3 355.0,371.6 356.0,373.2 357.0,375.0 358.0,377.0 359.0,379.2 360.0,381.7 361.0,384.4 362.0,387.3 363.0,390.4 364.0,393.7 365.0,397.2 366.0,401.0 367.0,405.0 368.0,409.2 369.0,413.6 370.0,418.3 371.0,423.1 372.0,428.2 373.0,433.5 374.0,439.0 375.0,444.8 376.0,450.7 377.0,456.9 378.0,463.3 379.0,469.9 380.0,476.7 381.0,483.8 382.0,491.1 383.0,498.5 384.0,506.3 385.0,514.2 386.0,522.3 387.0,530.7 388.0,539.3 389.0,548.1 390.0,557.1 391.0,566.4 392.0,575.8 393.0,585.5 394.0,595.4 395.0,605.5 396.0,615.8 397.0,626.4 398.0,637.2 399.0,648.2 400.0,659.4 401.0,666.5 402.0,666.5 403.0,666.5 404.0,666.5 405.0,666.5 406.0,666.5 407.0,666.5 408.0,666.5 409.0,666.5 410.0,666.5 411.0,666.5 412.0,666.5 413.0,666.5 414.0,666.5 415.0,666.5" fill="none" stroke="#0ce81c" stroke-width="3.5" stroke-linejoin="round"/>
<polyline points="458.0,666.5 459.0,666.5 460.0,666.5 461.0,666.5 462.0,666.5 463.0,666.5 464.0,666.5 465.0,666.5 466.0,666.5 467.0,666.5 468.0,666.5 469.0,666.5 470.0,666.5 471.0,666.5 472.0,666.5 473.0,666.5 474.0,666.5 475.0,666.5 476.0,666.5 477.0,666.5 478.0,666.5 479.0,666.5 480.0,666.5 481.0,666.5 482.0,666.5 483.0,666.5 484.0,666.5 485.0,666.5 486.0,666.5 487.0,666.5 488.0,666.5 489.0,657.3 490.0,646.1 491.0,635.1 492.0,624.3 493.0,613.7 494.0,603.4 495.0,593.3 496.0,583.4 497.0,573.7 498.0,564.3 499.0,555.1 500.0,546.1 501.0,537.3 502.0,528.8 503.0,520.4 504.0,512.3 505.0,504.5 506.0,496.8 507.0,489.4 508.0,482.2 509.0,475.2 510.0,468.4 511.0,461.9 512.0,455.5 513.0,449.4 514.0,443.6 515.0,437.9 516.0,432.5 517.0,427.3 518.0,422.3 519.0,417.5 520.0,413.0 521.0,408.7 522.0,404.6 523.0,400.7 524.0,397.1 525.0,393.7 526.0,390.5 527.0,387.5 528.0,384.8 529.0,382.2 530.0,379.9 531.0,377.8 532.0,376.0 533.0,374.3 534.0,372.9 535.0,371.7 536.0,370.8 537.0,370.0 538.0,369.5 539.0,369.2 540.0,369.1 541.0,369.2 542.0,369.6 543.0,370.2 544.0,371.0 545.0,372.1 546.0,373.3 547.0,374.8 548.0,376.5 549.0,378.4 550.0,380.6 551.0,383.0 552.0,385.6 553.0,388.4 554.0,391.4 555.0,394.7 556.0,398.2 557.0,401.9 558.0,405.8 559.0,410.0 560.0,414.4 561.0,419.0 562.0,423.8 563.0,428.8 564.0,434.1 565.0,439.6 566.0,445.3 567.0,451.3 568.0,457.4 569.0,463.8 570.0,470.4 571.0,477.2 572.0,484.3 573.0,491.6 574.0,499.1 575.0,506.8 576.0,514.7 577.0,522.9 578.0,531.3 579.0,539.9 580.0,548.8 581.0,557.8 582.0,567.1 583.0,576.6 584.0,586.3 585.0,596.3 586.0,606.5 587.0,616.9 588.0,627.5 589.0,638.3 590.0,649.4 591.0,660.7 592.0,666.5 593.0,666.5 594.0,666.5 595.0,666.5 596.0,666.5 597.0,666.5 598.0,666.5 599.0,666.5 600.0,666.5 601.0,666.5 602.0,666.5 603.0,666.5 604.0,666.5 605.0,666.5 606.0,666.5 607.0,666.5 608.0,666.5 609.0,666.5 610.0,666.5 611.0,666.5 612.0,666.5 613.0,666.5 614.0,666.5 615.0,666.5 616.0,666.5 617.0,666.5 618.0,666.5" fill="none" stroke="#ee08ee" stroke-width="3.5" stroke-linejoin="round"/>
</g>
<rect x="12" y="5" width="387" height="46" fill="#000"/>
<rect x="10.5" y="3.5" width="387" height="46" fill="#f2f2f2" stroke="#000" stroke-width="1" shape-rendering="crispEdges"/>
<rect x="797" y="5" width="204" height="119" fill="#000"/>
<rect x="795.5" y="3.5" width="204" height="119" fill="#f2f2f2" stroke="#000" stroke-width="1" shape-rendering="crispEdges"/>
<line x1="795.5" y1="33.5" x2="999.5" y2="33.5" stroke="#000" stroke-width="1" shape-rendering="crispEdges"/>
<text transform="translate(22.6,32.4) scale(1.04,1)" font-family="Liberation Sans, sans-serif" font-weight="bold" fill="#000" font-size="33.5" text-anchor="start" stroke="#000" stroke-width="0.45">z</text>
<text transform="translate(40.5,39.3) scale(1.0,1)" font-family="Liberation Serif, serif" fill="#000" font-size="24" text-anchor="start" stroke="#000" stroke-width="0.3">π</text>
<text transform="translate(53.2,40.6) scale(1.0,1)" font-family="Liberation Sans, sans-serif" font-weight="bold" fill="#000" font-size="24" text-anchor="start" stroke="#000" stroke-width="0.45">-</text>
<text transform="translate(70.5,32.4) scale(0.983,1)" font-family="Liberation Sans, sans-serif" font-weight="bold" fill="#000" font-size="33.5" text-anchor="start" stroke="#000" stroke-width="0.45">vs.</text>
<text transform="translate(127,32.4) scale(0.983,1)" font-family="Liberation Sans, sans-serif" font-weight="bold" fill="#000" font-size="33.5" text-anchor="start" stroke="#000" stroke-width="0.45">m</text>
<text transform="translate(155.5,43.5) scale(1.0,1)" font-family="Liberation Sans, sans-serif" font-weight="bold" fill="#000" font-size="24" text-anchor="start" stroke="#000" stroke-width="0.45">t</text>
<text transform="translate(165,32.4) scale(0.983,1)" font-family="Liberation Sans, sans-serif" font-weight="bold" fill="#000" font-size="33.5" text-anchor="start" stroke="#000" stroke-width="0.45">-m</text>
<text transform="translate(204.5,40) scale(1.0,1)" font-family="Liberation Sans, sans-serif" font-weight="bold" fill="#000" font-size="24" text-anchor="start" stroke="#000" stroke-width="0.45">o</text>
<text transform="translate(227.5,32.4) scale(0.983,1)" font-family="Liberation Sans, sans-serif" font-weight="bold" fill="#000" font-size="33.5" text-anchor="start" stroke="#000" stroke-width="0.45">for</text>
<text transform="translate(282.5,32.4) scale(0.983,1)" font-family="Liberation Sans, sans-serif" font-weight="bold" fill="#000" font-size="33.5" text-anchor="start" stroke="#000" stroke-width="0.45">|y|&lt;0.1</text>
<text transform="translate(897.5,27.3) scale(1.055,1)" font-family="Liberation Sans, sans-serif" font-weight="bold" fill="#000" font-size="24" text-anchor="middle" >fitslice</text>
<text transform="translate(805.3,56.5) scale(1.055,1)" font-family="Liberation Sans, sans-serif" font-weight="bold" fill="#000" font-size="23" text-anchor="start" >Entries</text>
<text transform="translate(988.6,56.5) scale(1.055,1)" font-family="Liberation Sans, sans-serif" font-weight="bold" fill="#000" font-size="23" text-anchor="end" >11653</text>
<text transform="translate(805.3,85.7) scale(1.055,1)" font-family="Liberation Sans, sans-serif" font-weight="bold" fill="#000" font-size="23" text-anchor="start" >Mean</text>
<text transform="translate(988.6,85.7) scale(1.055,1)" font-family="Liberation Sans, sans-serif" font-weight="bold" fill="#000" font-size="23" text-anchor="end" >0.06322</text>
<text transform="translate(805.3,115.7) scale(1.055,1)" font-family="Liberation Sans, sans-serif" font-weight="bold" fill="#000" font-size="23" text-anchor="start" >RMS</text>
<text transform="translate(988.6,115.7) scale(1.055,1)" font-family="Liberation Sans, sans-serif" font-weight="bold" fill="#000" font-size="23" text-anchor="end" >0.2079</text>
<text transform="translate(99.0,692.8) scale(0.99,1)" font-family="Liberation Sans, sans-serif" font-weight="bold" fill="#000" font-size="28" text-anchor="middle" stroke="#000" stroke-width="0.25">-0.5</text>
<text transform="translate(238.0,692.8) scale(0.99,1)" font-family="Liberation Sans, sans-serif" font-weight="bold" fill="#000" font-size="28" text-anchor="middle" stroke="#000" stroke-width="0.25">0</text>
<text transform="translate(374.0,692.8) scale(0.99,1)" font-family="Liberation Sans, sans-serif" font-weight="bold" fill="#000" font-size="28" text-anchor="middle" stroke="#000" stroke-width="0.25">0.5</text>
<text transform="translate(510.0,692.8) scale(0.99,1)" font-family="Liberation Sans, sans-serif" font-weight="bold" fill="#000" font-size="28" text-anchor="middle" stroke="#000" stroke-width="0.25">1</text>
<text transform="translate(646.0,692.8) scale(0.99,1)" font-family="Liberation Sans, sans-serif" font-weight="bold" fill="#000" font-size="28" text-anchor="middle" stroke="#000" stroke-width="0.25">1.5</text>
<text transform="translate(782.0,692.8) scale(0.99,1)" font-family="Liberation Sans, sans-serif" font-weight="bold" fill="#000" font-size="28" text-anchor="middle" stroke="#000" stroke-width="0.25">2</text>
<text transform="translate(918.0,692.8) scale(0.99,1)" font-family="Liberation Sans, sans-serif" font-weight="bold" fill="#000" font-size="28" text-anchor="middle" stroke="#000" stroke-width="0.25">2.5</text>
<text transform="translate(92.8,591.1) scale(0.945,1)" font-family="Liberation Sans, sans-serif" font-weight="bold" fill="#000" font-size="28.5" text-anchor="end" stroke="#000" stroke-width="0.25">1</text>
<text transform="translate(92.8,433.1) scale(0.945,1)" font-family="Liberation Sans, sans-serif" font-weight="bold" fill="#000" font-size="28.5" text-anchor="end" stroke="#000" stroke-width="0.25">10</text>
<text transform="translate(84.3,278.0) scale(0.945,1)" font-family="Liberation Sans, sans-serif" font-weight="bold" fill="#000" font-size="28.5" text-anchor="end" stroke="#000" stroke-width="0.25">10</text>
<text transform="translate(93,264.3) scale(0.95,1)" font-family="Liberation Sans, sans-serif" font-weight="bold" fill="#000" font-size="18.5" text-anchor="end" >2</text>
<text transform="translate(84.3,120.0) scale(0.945,1)" font-family="Liberation Sans, sans-serif" font-weight="bold" fill="#000" font-size="28.5" text-anchor="end" stroke="#000" stroke-width="0.25">10</text>
<text transform="translate(93,106.3) scale(0.95,1)" font-family="Liberation Sans, sans-serif" font-weight="bold" fill="#000" font-size="18.5" text-anchor="end" >3</text>
<text transform="translate(46.6,169.3) rotate(-90) scale(0.965,1)" font-family="Liberation Sans, sans-serif" font-weight="bold" fill="#000" font-size="28.8">Counts</text>
<text transform="translate(893.8,718.2) scale(1.1,1)" font-family="Liberation Sans, sans-serif" font-weight="bold" fill="#000" font-size="27" text-anchor="start" >z</text>
<text transform="translate(908.3,723) scale(1.0,1)" font-family="Liberation Serif, serif" fill="#000" font-size="18.5" text-anchor="start" stroke="#000" stroke-width="0.3">π</text>
</svg>
</body></html>
